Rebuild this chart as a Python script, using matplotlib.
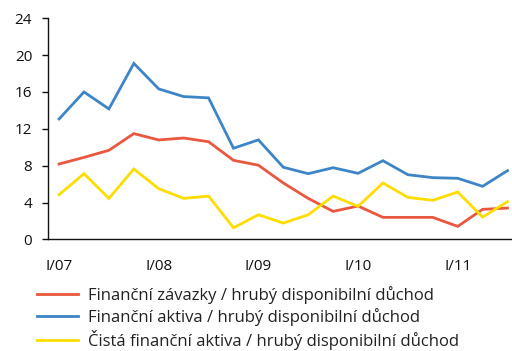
import matplotlib
matplotlib.use("Agg")
import matplotlib.pyplot as plt

plt.rcParams['font.family'] = ['Open Sans', 'DejaVu Sans']

quarters = ["I/07", "II/07", "III/07", "IV/07",
            "I/08", "II/08", "III/08", "IV/08",
            "I/09", "II/09", "III/09", "IV/09",
            "I/10", "II/10", "III/10", "IV/10",
            "I/11", "II/11", "III/11"]

zavazky = [8.18, 8.9, 9.67, 11.48, 10.79, 11.0, 10.6, 8.58, 8.05, 6.12,
           4.45, 3.04, 3.62, 2.39, 2.39, 2.39, 1.41, 3.26, 3.4]
aktiva = [13.07, 16.0, 14.16, 19.1, 16.33, 15.5, 15.36, 9.89, 10.8, 7.83,
          7.13, 7.78, 7.17, 8.54, 7.02, 6.7, 6.63, 5.76, 7.46]
cista = [4.85, 7.13, 4.45, 7.64, 5.5, 4.45, 4.7, 1.26, 2.67, 1.77,
         2.67, 4.7, 3.58, 6.12, 4.56, 4.24, 5.14, 2.42, 4.09]

labels = ["Finanční závazky / hrubý disponibilní důchod",
          "Finanční aktiva / hrubý disponibilní důchod",
          "Čistá finanční aktiva / hrubý disponibilní důchod"]
colors = ["#E9573F", "#3D85C6", "#FFDD00"]

fig = plt.figure(figsize=(5.12, 3.51), dpi=100)
ax = fig.add_axes([0.094, 0.318, 0.906, 0.63])

x = list(range(len(quarters)))
for series, lab, col in zip([zavazky, aktiva, cista], labels, colors):
    ax.plot(x, series, color=col, lw=2.0, label=lab, solid_joinstyle='miter')

ax.set_xlim(-0.44, 18.18)
ax.set_ylim(0, 24)
ax.set_yticks(range(0, 25, 4))
ax.set_xticks(x[::4])
ax.set_xticklabels(quarters[::4])

for s in ["top", "right"]:
    ax.spines[s].set_visible(False)
for s in ["left", "bottom"]:
    ax.spines[s].set_linewidth(1.0)
    ax.spines[s].set_color("#111111")

ax.tick_params(axis='y', length=4.5, width=1, labelsize=11, colors="#111111", pad=7)
ax.tick_params(axis='x', length=0, labelsize=11, colors="#111111", pad=14)

leg = fig.legend(loc='upper left', bbox_to_anchor=(0.072, 0.186), frameon=False,
                 fontsize=12.0, handlelength=2.45, handletextpad=0.6,
                 labelspacing=0.24, borderaxespad=0, borderpad=0)
for t in leg.get_texts():
    t.set_color("#222222")

fig.savefig("out.png", dpi=100)
